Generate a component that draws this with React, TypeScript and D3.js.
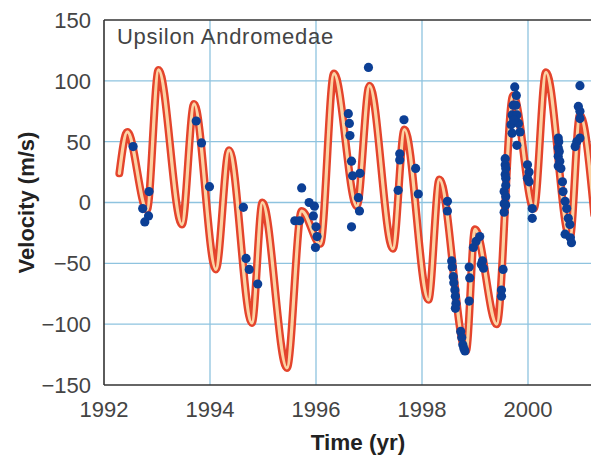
import React from "react";
import * as d3 from "d3";

// Model curve (read at extrema)
const curveYears = [1992.29, 1992.44, 1992.81, 1993.03, 1993.47, 1993.70, 1994.11, 1994.36, 1994.79, 1994.99, 1995.45, 1995.73, 1996.08, 1996.34, 1996.77, 1997.01, 1997.45, 1997.67, 1998.12, 1998.33, 1998.83, 1999.0, 1999.41, 1999.72, 2000.11, 2000.34, 2000.79, 2000.98, 2001.25];
const curveVel = [24, 58, -6, 109, -18, 81, -55, 43, -99, 0, -136, -7, -34, 106, -3, 96, -38, 60, -80, 19, -122, -22, -100, 88, -5, 107, -29, 72, -10];

// Observations
const dotYears = [
  1992.55, 1992.85, 1992.73, 1992.84, 1992.77, 1993.74, 1993.84, 1993.99,
  1994.63, 1994.68, 1994.74, 1994.90,
  1995.60, 1995.69, 1995.73, 1995.87, 1995.97, 1995.95, 1996.00, 1996.02, 1995.99,
  1996.61, 1996.63, 1996.64, 1996.67, 1996.69, 1996.83, 1996.80, 1996.82, 1996.67, 1996.99,
  1997.58, 1997.58, 1997.55, 1997.66, 1997.88, 1997.93,
  1998.48, 1998.48, 1998.56, 1998.57, 1998.59, 1998.60, 1998.62, 1998.63, 1998.64, 1998.63,
  1998.73, 1998.75, 1998.77, 1998.79, 1998.81, 1998.89, 1998.90, 1998.89,
  1998.97, 1999.02, 1999.09, 1999.12, 1999.14, 1999.16,
  1999.53, 1999.50, 1999.50,
  1999.55, 1999.55, 1999.55, 1999.57, 1999.57, 1999.57, 1999.58, 1999.58, 1999.58, 1999.58, 1999.58,
  1999.75, 1999.78, 1999.72, 1999.77, 1999.70, 1999.79, 1999.68, 1999.82, 1999.70, 1999.85, 1999.73, 1999.79,
  1999.99, 2000.02, 1999.99, 2000.02, 2000.08, 2000.08,
  2000.57, 2000.57, 2000.57, 2000.57, 2000.58, 2000.59, 2000.60, 2000.62, 2000.65, 2000.66,
  2000.70, 2000.73, 2000.76, 2000.79, 2000.70, 2000.80, 2000.82,
  2000.98, 2000.98, 2000.98, 2000.95, 2000.92, 2000.89, 2000.98,
];
const dotVel = [
  46, 9, -5, -11, -16, 67, 49, 13,
  -4, -46, -55, -67,
  -15, -15, 12, 0, -3, -11, -20, -28, -37,
  73, 65, 55, 34, 22, 24, 4, -7, -20, 111,
  40, 35, 10, 68, 28, 7,
  1, -7, -48, -53, -61, -66, -72, -77, -83, -87,
  -106, -111, -117, -120, -122, -53, -62, -81,
  -37, -32, -28, -51, -48, -54,
  -55, -77, -72,
  -1, -8, 9, 23, 31, 36, 28, 20, 14, 5, -2,
  95, 88, 80, 80, 72, 72, 64, 65, 57, 58, 68, 47,
  31, 25, 20, 17, -5, -13,
  53, 45, 38, 30, 50, 42, 34, 28, 17, 9,
  1, -5, -13, -18, -26, -29, -33,
  96, 75, 69, 79, 50, 46, 53,
];

const xTicks = [1992, 1994, 1996, 1998, 2000];
const yTicks = [150, 100, 50, 0, -50, -100, -150];

const W = 591;
const H = 462;
const left = 104;
const top = 20;
const bottom = 385;

export default function App() {
  const x = d3.scaleLinear().domain([1992, 2002]).range([left, left + 530]);
  const y = d3.scaleLinear().domain([-150, 150]).range([bottom, top]);

  const pts: [number, number][] = curveYears.map((t, i) => [t, curveVel[i]]);
  const line = d3
    .line<[number, number]>()
    .x((d) => x(d[0]))
    .y((d) => y(d[1]))
    .curve(d3.curveMonotoneX);
  const path = line(pts) || "";

  const font = "'Liberation Sans', Arial, Helvetica, sans-serif";
  const grid = "#8ec3df";

  return (
    <svg
      width={W}
      height={H}
      style={{ position: "absolute", left: 0, top: 0, background: "#fff" }}
    >
      <defs>
        <clipPath id="plot">
          <rect x={left} y={top} width={W - left} height={bottom - top} />
        </clipPath>
      </defs>
      <rect x={0} y={0} width={W} height={H} fill="#fff" />
      {/* grid */}
      {xTicks
        .filter((t) => t > 1992)
        .map((t) => (
          <line key={"gx" + t} x1={x(t)} x2={x(t)} y1={top} y2={bottom} stroke={grid} strokeWidth={1.3} />
        ))}
      {yTicks
        .filter((t) => t > -150 && t < 150)
        .map((t) => (
          <line key={"gy" + t} x1={left} x2={W} y1={y(t)} y2={y(t)} stroke={grid} strokeWidth={1.3} />
        ))}
      {/* frame */}
      <line x1={left} x2={W} y1={top} y2={top} stroke="#333" strokeWidth={1.6} />
      <line x1={left} x2={W} y1={bottom} y2={bottom} stroke="#333" strokeWidth={1.6} />
      <line x1={left} x2={left} y1={top} y2={bottom} stroke="#333" strokeWidth={1.6} />

      <g clipPath="url(#plot)">
        <path d={path} fill="none" stroke="#e4442c" strokeWidth={8} strokeLinejoin="round" strokeLinecap="round" />
        <path d={path} fill="none" stroke="#fcd3a4" strokeWidth={3.2} strokeLinejoin="round" strokeLinecap="round" />
        {dotYears.map((t, i) => (
          <circle key={"d" + i} cx={x(t)} cy={y(dotVel[i])} r={4.6} fill="#0c3f95" />
        ))}
      </g>

      <text x={117} y={44} fontFamily={font} fontSize={22} letterSpacing={0.7} fill="#444">
        Upsilon Andromedae
      </text>

      {yTicks.map((t) => (
        <text
          key={"yl" + t}
          x={91}
          y={y(t)}
          dy="0.36em"
          textAnchor="end"
          fontFamily={font}
          fontSize={22}
          fill="#444"
        >
          {t < 0 ? "\u2212" + Math.abs(t) : String(t)}
        </text>
      ))}
      {xTicks.map((t) => (
        <text
          key={"xl" + t}
          x={x(t)}
          y={417}
          textAnchor="middle"
          fontFamily={font}
          fontSize={22}
          fill="#444"
        >
          {t}
        </text>
      ))}
      <text
        x={358}
        y={450}
        textAnchor="middle"
        fontFamily={font}
        fontSize={22.5}
        fontWeight="bold"
        fill="#222"
      >
        Time (yr)
      </text>
      <text
        transform={`translate(34, ${y(0)}) rotate(-90)`}
        textAnchor="middle"
        fontFamily={font}
        fontSize={22}
        fontWeight="bold"
        fill="#222"
      >
        Velocity (m/s)
      </text>
    </svg>
  );
}
